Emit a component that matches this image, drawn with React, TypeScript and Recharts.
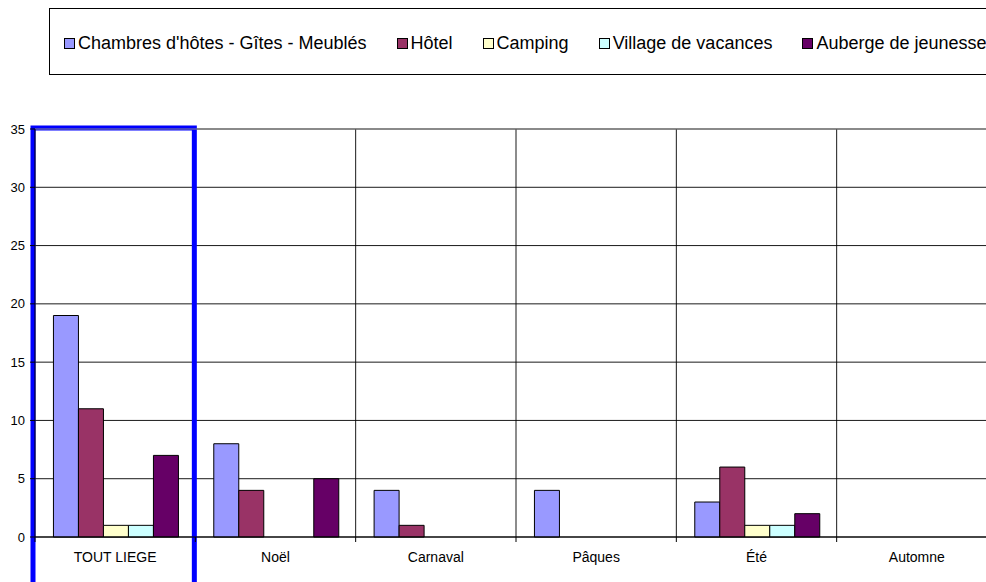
import React from 'react'
import { BarChart, Bar, XAxis, YAxis, CartesianGrid, ReferenceArea, ReferenceLine } from 'recharts'

const categories = ['TOUT LIEGE', 'Noël', 'Carnaval', 'Pâques', 'Été', 'Automne']
const chambres = [19, 8, 4, 4, 3, 0]
const hotel = [11, 4, 1, 0, 6, 0]
const camping = [1, 0, 0, 0, 1, 0]
const village = [1, 0, 0, 0, 1, 0]
const auberge = [7, 5, 0, 0, 2, 0]
const yTicks = [0, 5, 10, 15, 20, 25, 30, 35]

const series = [
  { key: 'chambres', name: "Chambres d'hôtes - Gîtes - Meublés", color: '#9999FF', values: chambres },
  { key: 'hotel', name: 'Hôtel', color: '#993366', values: hotel },
  { key: 'camping', name: 'Camping', color: '#FFFFCC', values: camping },
  { key: 'village', name: 'Village de vacances', color: '#CCFFFF', values: village },
  { key: 'auberge', name: 'Auberge de jeunesse', color: '#660066', values: auberge },
]

const data = categories.map((cat, i) => {
  const row: any = { cat }
  series.forEach((s) => {
    row[s.key] = s.values[i]
  })
  return row
})

const FONT = '"Liberation Sans", Arial, sans-serif'

const CatTick = (props: any) => {
  const { x, y, payload } = props
  const half = payload?.offset ?? props.width / props.visibleTicksCount / 2
  return (
    <g>
      <line x1={x - half} x2={x - half} y1={y} y2={y + 5} stroke="#000" />
      <text x={x} y={y + 25} textAnchor="middle" fontSize={14} fontFamily={FONT} fill="#000">
        {payload.value}
      </text>
    </g>
  )
}

const Highlight = (props: any) => {
  const { x, y, width } = props
  const l = x - 2
  const r = x + width - 1
  const t = y - 1
  return <path d={`M${l},620 L${l},${t} L${r},${t} L${r},620`} fill="none" stroke="#0000FF" strokeWidth={5} />
}

const boundaries = ({ offset }: any) => {
  const bw = offset.width / categories.length
  return categories.map((_, i) => offset.left + (i + 1) * bw)
}

const Legend = () => (
  <div
    style={{
      position: 'absolute',
      left: 49,
      top: 8,
      width: 1000,
      height: 67,
      border: '1px solid #000',
      boxSizing: 'border-box',
      display: 'flex',
      alignItems: 'center',
      paddingLeft: 14,
      paddingTop: 3,
      fontFamily: FONT,
      fontSize: 18,
      whiteSpace: 'nowrap',
      background: '#fff',
    }}
  >
    {series.map((s) => (
      <div key={s.key} style={{ display: 'flex', alignItems: 'center', marginRight: 30 }}>
        <span
          style={{
            width: 9,
            height: 9,
            border: '1px solid #000',
            background: s.color,
            marginRight: 3,
            display: 'inline-block',
          }}
        />
        <span>{s.name}</span>
      </div>
    ))}
  </div>
)

export default function App() {
  return (
    <div style={{ position: 'absolute', left: 0, top: 0, width: 986, height: 582, overflow: 'hidden', background: '#fff' }}>
      <Legend />
      <div style={{ position: 'absolute', left: 0, top: 0 }}>
        <BarChart
          width={1010}
          height={582}
          data={data}
          margin={{ top: 129, right: 13, bottom: 0, left: 0 }}
          barCategoryGap="11.5%"
          barGap={0}
        >
          <CartesianGrid
            stroke="#000"
            strokeOpacity={0.9}
            verticalCoordinatesGenerator={boundaries}
          />
          <XAxis
            dataKey="cat"
            height={45}
            axisLine={{ stroke: '#000' }}
            tickLine={false}
            tickSize={0}
            tickMargin={0}
            tick={<CatTick />}
            interval={0}
          />
          <YAxis
            width={35}
            domain={[0, 35]}
            ticks={yTicks}
            interval={0}
            axisLine={{ stroke: '#000' }}
            tickLine={{ stroke: '#000' }}
            tickSize={5}
            tickMargin={5}
            tick={{ fontSize: 13, fontFamily: FONT, fill: '#000' }}
          />
          <ReferenceLine y={35} stroke="#888" />
          {series.map((s) => (
            <Bar
              key={s.key}
              dataKey={s.key}
              name={s.name}
              fill={s.color}
              stroke="#000"
              strokeWidth={1}
              isAnimationActive={false}
            />
          ))}
          <ReferenceArea x1="TOUT LIEGE" x2="TOUT LIEGE" ifOverflow="visible" shape={<Highlight />} />
        </BarChart>
      </div>
    </div>
  )
}
